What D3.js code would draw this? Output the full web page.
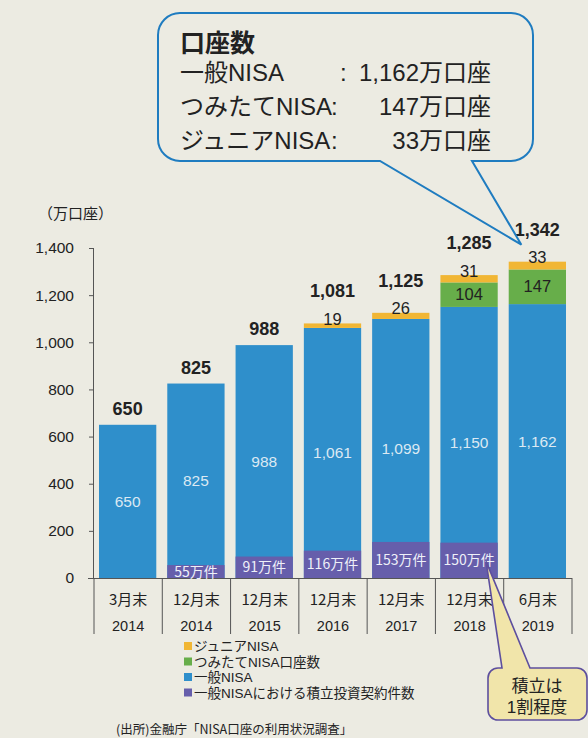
<!DOCTYPE html>
<html><head><meta charset="utf-8">
<script src="https://cdn.jsdelivr.net/npm/d3@7"></script>
<style>
html,body{margin:0;padding:0;background:#ecebe2;}
svg{display:block;font-family:"Liberation Sans","Noto Sans CJK JP",sans-serif;}
.jp{font-family:"Noto Sans CJK JP","Liberation Sans",sans-serif;}
</style></head>
<body>
<svg id="c" width="588" height="738"></svg>
<script>
const months = ["3月末","12月末","12月末","12月末","12月末","12月末","6月末"];
const years = ["2014","2014","2015","2016","2017","2018","2019"];
const ippan = [650,825,988,1061,1099,1150,1162];
const tsumitate = [0,0,0,0,0,104,147];
const junior = [0,0,0,19,26,31,33];
const totals = [650,825,988,1081,1125,1285,1342];
const tsumitateKeiyaku = [0,55,91,116,153,150,0];
const yTicks = [0,200,400,600,800,1000,1200,1400];
const legendLabels = ["ジュニアNISA","つみたてNISA口座数","一般NISA","一般NISAにおける積立投資契約件数"];
const calloutTitle = "口座数";
const calloutRows = [["一般NISA","1,162万口座"],["つみたてNISA","147万口座"],["ジュニアNISA","33万口座"]];
const source = "(出所)金融庁「NISA口座の利用状況調査」";
const note = ["積立は","1割程度"];

const C = {blue:"#2f8fcb", green:"#67ae4a", yellow:"#f1b634", purple:"#665eab", text:"#222", bg:"#ecebe2"};
const svg = d3.select("#c");
const idx = d3.range(months.length);

const x = d3.scaleBand().domain(idx).range([94,572]).padding(0);
const y = d3.scaleLinear().domain([0,1400]).range([578,248]);
const bx = i => x(i)+5, bw = x.bandwidth()-11;

// y axis
const yAxis = svg.append("g").attr("transform","translate(94,0)")
  .call(d3.axisLeft(y).tickValues(yTicks).tickSize(5).tickPadding(15).tickFormat(d3.format(",")));
yAxis.select(".domain").attr("stroke","#555").attr("d","M-0.5,248V578");
yAxis.selectAll(".tick line").attr("stroke","#555");
yAxis.selectAll(".tick text").attr("font-size",15.5).attr("fill",C.text).attr("font-family","Liberation Sans");

svg.append("text").attr("class","jp").attr("x",38).attr("y",219).attr("font-size",15).attr("fill",C.text).text("（万口座）");

// bars
const g = svg.append("g");
g.selectAll(".b").data(idx).join("rect").attr("x",bx).attr("width",bw)
  .attr("y",i=>y(ippan[i])).attr("height",i=>y(0)-y(ippan[i])).attr("fill",C.blue);
g.selectAll(".p").data(idx.filter(i=>tsumitateKeiyaku[i]>0)).join("rect").attr("x",bx).attr("width",bw)
  .attr("y",i=>y(tsumitateKeiyaku[i])).attr("height",i=>y(0)-y(tsumitateKeiyaku[i])).attr("fill",C.purple);
g.selectAll(".g").data(idx.filter(i=>tsumitate[i]>0)).join("rect").attr("x",bx).attr("width",bw)
  .attr("y",i=>y(ippan[i]+tsumitate[i])).attr("height",i=>y(ippan[i])-y(ippan[i]+tsumitate[i])).attr("fill",C.green);
g.selectAll(".yy").data(idx.filter(i=>junior[i]>0)).join("rect").attr("x",bx).attr("width",bw)
  .attr("y",i=>y(ippan[i]+tsumitate[i]+junior[i])).attr("height",i=>y(ippan[i]+tsumitate[i])-y(ippan[i]+tsumitate[i]+junior[i])).attr("fill",C.yellow);

// x axis line + separators
svg.append("line").attr("x1",88).attr("x2",572).attr("y1",578.5).attr("y2",578.5).attr("stroke","#555");
svg.selectAll(".sep").data(d3.range(months.length+1)).join("line")
  .attr("x1",i=>x(0)+i*x.step()).attr("x2",i=>x(0)+i*x.step()).attr("y1",578).attr("y2",634).attr("stroke","#555");
svg.selectAll(".m").data(idx).join("text").attr("class","jp").attr("x",i=>x(i)+x.bandwidth()/2).attr("y",605)
  .attr("text-anchor","middle").attr("font-size",15).attr("fill",C.text).text(i=>months[i]);
svg.selectAll(".yr").data(idx).join("text").attr("x",i=>x(i)+x.bandwidth()/2).attr("y",630.5)
  .attr("text-anchor","middle").attr("font-size",14.5).attr("fill",C.text).text(i=>years[i]);

// labels
const cx = i => bx(i)+bw/2;
svg.selectAll(".bl").data(idx).join("text").attr("x",cx).attr("y",i=>(y(ippan[i])+y(0))/2+5.5)
  .attr("text-anchor","middle").attr("font-size",15.5).attr("fill","#dbe9f3").text(i=>d3.format(",")(ippan[i]));
svg.selectAll(".pl").data(idx.filter(i=>tsumitateKeiyaku[i]>0)).join("text").attr("class","jp").attr("x",cx)
  .attr("y",i=>(y(tsumitateKeiyaku[i])+y(0))/2+5).attr("text-anchor","middle").attr("font-size",14).attr("fill","#eef0f8")
  .text(i=>tsumitateKeiyaku[i]+"万件");
svg.selectAll(".gl").data(idx.filter(i=>tsumitate[i]>0)).join("text").attr("x",cx)
  .attr("y",i=>(y(ippan[i])+y(ippan[i]+tsumitate[i]))/2+5.5).attr("text-anchor","middle").attr("font-size",16.5).attr("fill",C.text)
  .text(i=>tsumitate[i]);
svg.selectAll(".jl").data(idx.filter(i=>junior[i]>0)).join("text").attr("x",cx)
  .attr("y",i=>y(totals[i])+1.5).attr("text-anchor","middle").attr("font-size",16.5).attr("fill",C.text)
  .text(i=>junior[i]);
svg.selectAll(".tl").data(idx).join("text").attr("x",cx)
  .attr("y",i=>y(totals[i])-(junior[i]>0?26:10)).attr("text-anchor","middle").attr("font-size",18).attr("font-weight","bold").attr("fill",C.text)
  .text(i=>d3.format(",")(totals[i]));

// legend
const lcol = [C.yellow,C.green,C.blue,C.purple];
const lg = svg.append("g").attr("transform","translate(184,646)");
legendLabels.forEach((t,k)=>{
  lg.append("rect").attr("x",0).attr("y",k*15.5-4).attr("width",8).attr("height",8).attr("fill",lcol[k]);
  lg.append("text").attr("x",10).attr("y",k*15.5+5).attr("font-size",13.5).attr("fill",C.text).text(t);
});

svg.append("text").attr("class","jp").attr("x",116).attr("y",734).attr("font-size",12.5).attr("fill",C.text).text(source);

// top speech bubble
const L=158,T=13,R=533,B=161,r=22;
const tip=[cx(6)-16, y(totals[6])-17];
svg.append("path").attr("d",`M${L+r},${T}H${R-r}A${r},${r} 0 0 1 ${R},${T+r}V${B-r}A${r},${r} 0 0 1 ${R-r},${B}H472L${tip[0]},${tip[1]}L380,${B}H${L+r}A${r},${r} 0 0 1 ${L},${B-r}V${T+r}A${r},${r} 0 0 1 ${L+r},${T}Z`)
  .attr("fill",C.bg).attr("stroke","#1f7cc0").attr("stroke-width",2);
svg.append("text").attr("x",180).attr("y",52).attr("font-size",25).attr("font-weight","bold").attr("fill",C.text).text(calloutTitle);
calloutRows.forEach((row,k)=>{
  const yy=81+k*34;
  svg.append("text").attr("x",180).attr("y",yy).attr("font-size",24).attr("fill",C.text).text(row[0]);
  svg.append("text").attr("x",k===0?340:331).attr("y",yy).attr("font-size",24).attr("fill",C.text).text(":");
  svg.append("text").attr("x",491).attr("y",yy).attr("text-anchor","end").attr("font-size",24).attr("fill",C.text).text(row[1]);
});

// bottom note bubble
const nt=[cx(5)+17, (y(tsumitateKeiyaku[5])+y(0))/2+1];
const nL=488,nT=668,nR=587,nB=720,nr=10;
svg.append("path").attr("d",`M${nL+nr},${nT}H502L${nt[0]},${nt[1]}L530,${nT}H${nR-nr}A${nr},${nr} 0 0 1 ${nR},${nT+nr}V${nB-nr}A${nr},${nr} 0 0 1 ${nR-nr},${nB}H${nL+nr}A${nr},${nr} 0 0 1 ${nL},${nB-nr}V${nT+nr}A${nr},${nr} 0 0 1 ${nL+nr},${nT}Z`)
  .attr("fill","#f1e5aa").attr("stroke","#5d4f9e").attr("stroke-width",1.6);
note.forEach((t,k)=>svg.append("text").attr("x",537).attr("y",692+k*21).attr("text-anchor","middle")
  .attr("font-size",17).attr("fill",C.text).text(t));
</script>
</body></html>
